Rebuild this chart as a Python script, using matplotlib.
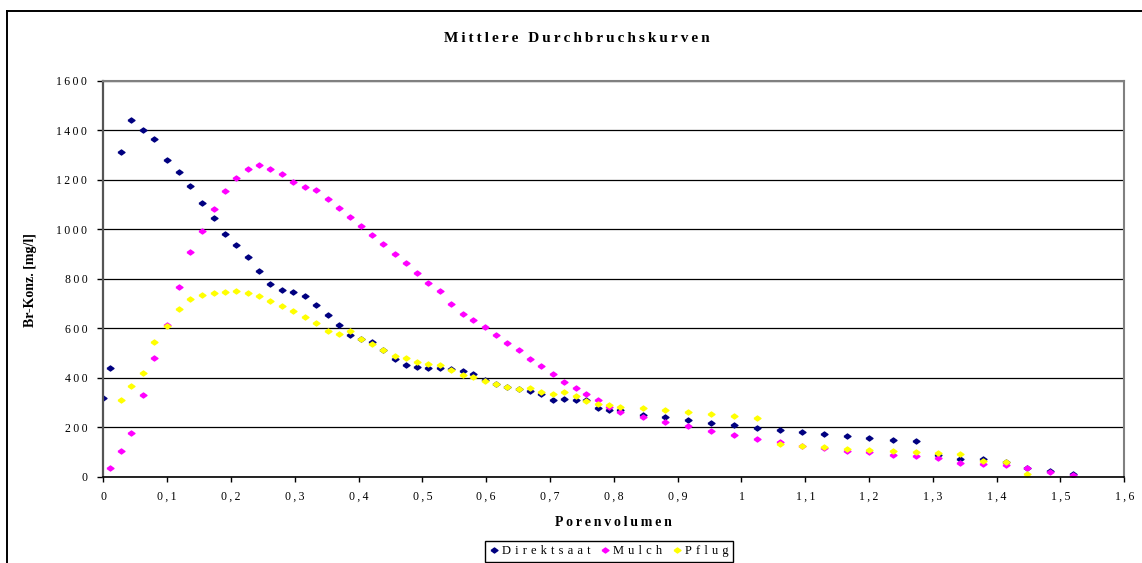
import matplotlib
matplotlib.use("Agg")
import matplotlib.pyplot as plt
from matplotlib.lines import Line2D

# Messpunkte (Porenvolumen), gemeinsam fuer alle Varianten
porenvolumen = [0.000, 0.011, 0.027, 0.044, 0.062, 0.080, 0.100, 0.118, 0.136, 0.154,
                0.173, 0.190, 0.208, 0.226, 0.244, 0.262, 0.280, 0.298, 0.316, 0.334,
                0.352, 0.369, 0.386, 0.404, 0.421, 0.439, 0.457, 0.474, 0.492, 0.509,
                0.527, 0.545, 0.563, 0.580, 0.598, 0.616, 0.633, 0.651, 0.668, 0.686,
                0.704, 0.722, 0.740, 0.757, 0.775, 0.793, 0.810, 0.846, 0.881, 0.917,
                0.952, 0.988, 1.024, 1.060, 1.095, 1.130, 1.165, 1.200, 1.237, 1.273,
                1.308, 1.343, 1.379, 1.414, 1.448, 1.483, 1.519]

# Br-Konzentration [mg/l]
direktsaat = [317, 439, 1313, 1442, 1399, 1365, 1279, 1230, 1173, 1107,
              1045, 981, 938, 888, 830, 780, 755, 748, 729, 694,
              653, 612, 573, 555, 543, 512, 475, 452, 443, 439,
              439, 434, 428, 413, 389, 373, 363, 356, 346, 335,
              308, 312, 310, 311, 278, 270, 269, 250, 241, 229,
              218, 208, 198, 189, 179, 171, 164, 156, 149, 143,
              87, 73, 70, 59, 34, 23, 10]

# Mulch beginnt beim 2. Messpunkt
mulch = [34, 102, 178, 332, 478, 613, 765, 909, 991,
         1083, 1153, 1208, 1242, 1260, 1245, 1222, 1192, 1171, 1160,
         1122, 1084, 1048, 1011, 977, 940, 901, 863, 822, 782,
         751, 697, 658, 634, 603, 572, 541, 510, 476, 446,
         413, 384, 357, 333, 309, 283, 260, 240, 221, 203,
         185, 169, 152, 139, 125, 117, 105, 99, 88, 82,
         74, 57, 53, 47, 34, 19, 7]

# Pflug beginnt beim 3. Messpunkt und endet bei 1,45
pflug = [309, 368, 421, 545, 610, 676, 716, 733,
         742, 747, 749, 741, 729, 710, 691, 670, 645, 621,
         590, 577, 587, 555, 536, 511, 489, 478, 465, 454,
         452, 431, 412, 401, 387, 373, 362, 355, 358, 343,
         333, 342, 327, 307, 294, 290, 283, 276, 268, 260,
         252, 244, 238, 132, 125, 119, 113, 108, 105, 100,
         95, 91, 63, 59, 12]

x_mulch = porenvolumen[1:1 + len(mulch)]
x_pflug = porenvolumen[2:2 + len(pflug)]

y_ticks = [0, 200, 400, 600, 800, 1000, 1200, 1400, 1600]
x_ticks = [0.0, 0.1, 0.2, 0.3, 0.4, 0.5, 0.6, 0.7, 0.8, 0.9, 1.0, 1.1, 1.2, 1.3, 1.4, 1.5, 1.6]
x_tick_labels = ['0', '0,1', '0,2', '0,3', '0,4', '0,5', '0,6', '0,7', '0,8', '0,9',
                 '1', '1,1', '1,2', '1,3', '1,4', '1,5', '1,6']

FONTS = ['Liberation Serif', 'DejaVu Serif']
plt.rcParams['font.family'] = FONTS


def spaced(text, gap='\u2009'):
    # Excel-artige Zeichenabstaende
    return gap.join(text)


W, H = 1142, 563
fig = plt.figure(figsize=(W / 100, H / 100), dpi=100)
ax = fig.add_axes([103.3 / W, 1 - 476.7 / H, (1124.3 - 103.3) / W, (476.7 - 80.7) / H])

# flache Raute wie in Excel
raute = [(-1, 0), (0, 0.72), (1, 0), (0, -0.72), (-1, 0)]
ms = 5

ax.plot(porenvolumen, direktsaat, linestyle='none', marker=raute, ms=ms,
        color='#000080', mec='#000080', label=spaced('Direktsaat', '\u2004'))
ax.plot(x_mulch, mulch, linestyle='none', marker=raute, ms=ms,
        color='#FF00FF', mec='#FF00FF', label=spaced('Mulch', '\u2004'))
ax.plot(x_pflug, pflug, linestyle='none', marker=raute, ms=ms,
        color='#FFFF00', mec='#FFFF00', label=spaced('Pflug', '\u2004'))

ax.set_xlim(0, 1.6)
ax.set_ylim(0, 1600)
ax.set_yticks(y_ticks, labels=[spaced(str(v)) for v in y_ticks])
ax.set_xticks(x_ticks, labels=[spaced(l) for l in x_tick_labels])

ax.set_axisbelow(True)
ax.yaxis.grid(True, color='black', linewidth=0.9)
ax.xaxis.grid(False)

for side in ['top', 'right']:
    ax.spines[side].set_color('#808080')
    ax.spines[side].set_linewidth(1.5)
ax.spines['left'].set_color('#555555')
ax.spines['left'].set_linewidth(1.6)
ax.spines['bottom'].set_color('black')
ax.spines['bottom'].set_linewidth(1.2)

ax.tick_params(axis='y', direction='out', length=4, width=1, pad=7.5, labelsize=8.5)
ax.tick_params(axis='x', direction='out', length=3.3, width=1, pad=7, labelsize=8.5)

fig.text(576.7 / W, 1 - 41.7 / H, spaced('Mittlere Durchbruchskurven'),
         ha='center', va='baseline', fontsize=11, fontweight='bold')
fig.text(613.3 / W, 1 - 526 / H, spaced('Porenvolumen'),
         ha='center', va='baseline', fontsize=10, fontweight='bold')
fig.text(30.7 / W, 1 - 280 / H, 'Br-Konz. [mg/l]', rotation=90,
         ha='center', va='center', fontsize=10, fontweight='bold')

leg = fig.legend(loc='upper left', bbox_to_anchor=(485.3 / W, 1 - 541 / H), ncol=3,
                 fontsize=9, frameon=True, fancybox=False, framealpha=1,
                 edgecolor='black', handlelength=0.7, handletextpad=0.3,
                 columnspacing=0.8, borderpad=0.35, borderaxespad=0, numpoints=1)
leg.get_frame().set_linewidth(1)

# Rahmen des Diagrammbereichs (rechts und unten abgeschnitten)
fig.add_artist(Line2D([6.7 / W, 1.01], [1 - 10.7 / H, 1 - 10.7 / H],
                      transform=fig.transFigure, color='black', lw=1.4))
fig.add_artist(Line2D([6.7 / W, 6.7 / W], [1 - 10.7 / H, -0.01],
                      transform=fig.transFigure, color='black', lw=1.4))

fig.savefig('out.png', dpi=100, facecolor='white')
